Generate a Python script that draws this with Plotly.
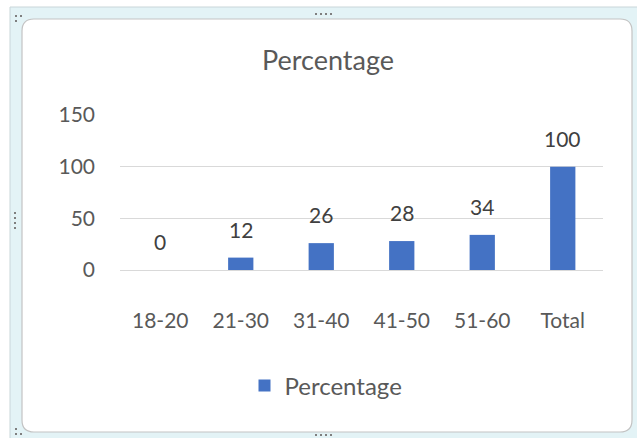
import plotly.graph_objects as go

categories = ["18-20", "21-30", "31-40", "41-50", "51-60", "Total"]
values = [0, 12, 26, 28, 34, 100]
series_name = "Percentage"
title_text = "Percentage"
y_ticks = [0, 50, 100, 150]

W, H = 637, 438
L, R, T, B = 120, 34, 115, 168
PW = W - L - R
PH = H - T - B

def px(x):
    return (x - L) / PW

def py(y):
    return (H - B - y) / PH

FONT = "Lato"
TXT = "#595959"
BAR = "#4472C4"

fig = go.Figure()
fig.add_trace(go.Bar(
    x=categories, y=values, name=series_name,
    marker=dict(color=BAR, line=dict(width=0)),
    showlegend=True,
))

# data labels
for c, v in zip(categories, values):
    fig.add_annotation(x=c, y=v, xref="x", yref="y", text=str(v),
                       showarrow=False, yanchor="bottom", yshift=14,
                       font=dict(family=FONT, size=21, color="#404040"))

shapes = []
# outer selection frame
shapes.append(dict(type="rect", xref="paper", yref="paper", layer="below",
                   x0=px(10), x1=px(640), y0=py(7), y1=py(441),
                   fillcolor="#e3f3f6", line=dict(color="#c9d6d9", width=1)))
# inner rounded white area
x0, x1, y0, y1, r = 22, 632, 19, 432, 12
path = (f"M {px(x0+r)},{py(y0)} L {px(x1-r)},{py(y0)} Q {px(x1)},{py(y0)} {px(x1)},{py(y0+r)} "
        f"L {px(x1)},{py(y1-r)} Q {px(x1)},{py(y1)} {px(x1-r)},{py(y1)} "
        f"L {px(x0+r)},{py(y1)} Q {px(x0)},{py(y1)} {px(x0)},{py(y1-r)} "
        f"L {px(x0)},{py(y0+r)} Q {px(x0)},{py(y0)} {px(x0+r)},{py(y0)} Z")
shapes.append(dict(type="path", xref="paper", yref="paper", layer="below", path=path,
                   fillcolor="white", line=dict(color="#c3c3c3", width=1.2)))
# handle dots
def dot(cx, cy):
    shapes.append(dict(type="rect", xref="paper", yref="paper", layer="below",
                       x0=px(cx-1), x1=px(cx+1), y0=py(cy-1), y1=py(cy+1),
                       fillcolor="#7f7f7f", line=dict(width=0)))
for cx in (316, 321, 326, 331):
    dot(cx, 14)
    dot(cx, 435)
for cy in (213, 218, 223, 228):
    dot(15, cy)
dot(16, 16); dot(21, 16); dot(16, 21)
dot(16, 434); dot(21, 434); dot(16, 429)

fig.update_layout(
    width=W, height=H,
    margin=dict(l=L, r=R, t=T, b=B, autoexpand=False),
    paper_bgcolor="white", plot_bgcolor="rgba(0,0,0,0)",
    shapes=shapes,
    title=dict(text=title_text, x=px(328), xanchor="center", xref="paper",
               y=1 - 61 / H, yanchor="middle",
               font=dict(family=FONT, size=27, color=TXT)),
    bargap=0.686,
    font=dict(family=FONT, size=21, color=TXT),
    showlegend=True,
    legend=dict(orientation="h", x=px(326), xanchor="center", y=py(386), yanchor="middle",
                font=dict(family=FONT, size=24, color=TXT), itemwidth=30,
                bgcolor="rgba(0,0,0,0)"),
    xaxis=dict(type="category", showgrid=False, showline=True, linecolor="#d9d9d9",
               linewidth=1, ticks="outside", ticklen=0, ticklabelstandoff=32,
               tickfont=dict(family=FONT, size=21, color=TXT), zeroline=False),
    yaxis=dict(range=[0, 150], tickvals=y_ticks, showgrid=True, gridcolor="#d9d9d9",
               gridwidth=1, zeroline=False, showline=False, ticks="",
               ticklabelstandoff=24,
               tickfont=dict(family=FONT, size=21, color=TXT)),
)

fig.write_html("out.html")
